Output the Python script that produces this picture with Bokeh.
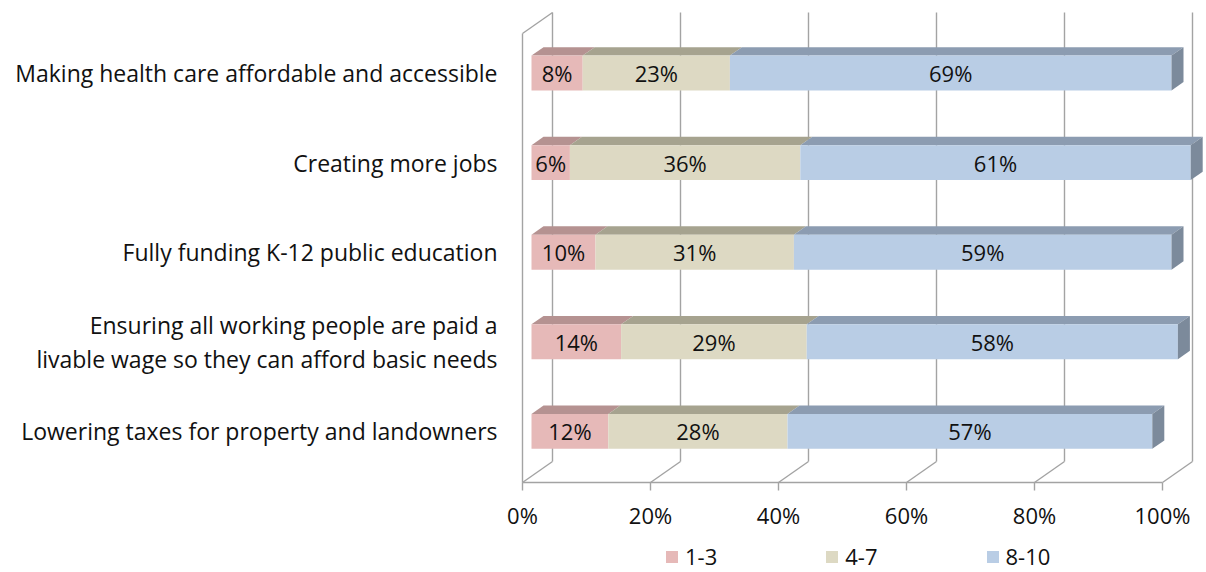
from bokeh.plotting import figure
from bokeh.models import (Range1d, FixedTicker, PrintfTickFormatter, Legend,
                          LegendItem, ColumnDataSource)
from bokeh.core.properties import value
from bokeh.embed import file_html
from bokeh.resources import INLINE

# ---- data -------------------------------------------------------------
categories = [
    "Making health care affordable and accessible",
    "Creating more jobs",
    "Fully funding K-12 public education",
    "Ensuring all working people are paid a\nlivable wage so they can afford basic needs",
    "Lowering taxes for property and landowners",
]
series_names = ["1-3", "4-7", "8-10"]
low = [8, 6, 10, 14, 12]
mid = [23, 36, 31, 29, 28]
high = [69, 61, 59, 58, 57]
x_ticks = [0, 20, 40, 60, 80, 100]

# ---- styling ----------------------------------------------------------
FONT = "Open Sans"
TEXT_COLOR = "#111111"
GRID_COLOR = "#a3a3a3"
front_colors = ["#E6B9B8", "#DDD9C3", "#B9CDE5"]
top_colors = ["#B59291", "#A6A38F", "#8C9CB1"]
side_color = "#7C8A9B"

W, H = 1206, 572
PX_PER_PCT = 6.4          # horizontal scale of the plot area
ROW_PX = 89.6             # vertical distance between bars
ORIGIN_PX = 522           # left edge of the floor's front line
FLOOR_PX = 482            # height of the floor's front line from the top

# 3-D depth of the plot box (front -> back wall), in data units
DX = 30 / PX_PER_PCT
DY = 21 / ROW_PX
BAR_D0, BAR_D1 = 0.3, 0.7  # bar sits in the middle of the box depth
BAR_THICK = 0.39
Y_FLOOR = -0.5
WALL_TOP = Y_FLOOR + 449 / ROW_PX

x_start = -ORIGIN_PX / PX_PER_PCT
x_end = (W - ORIGIN_PX) / PX_PER_PCT
y_start = Y_FLOOR - (H - FLOOR_PX) / ROW_PX
y_end = Y_FLOOR + FLOOR_PX / ROW_PX

p = figure(width=W, height=H, output_backend="svg", toolbar_location=None,
           x_range=Range1d(x_start, x_end), y_range=Range1d(y_start, y_end),
           y_axis_location=None, min_border=0, min_border_left=0,
           min_border_right=0, min_border_top=0, min_border_bottom=0)
p.outline_line_color = None
p.grid.visible = False
p.background_fill_color = "white"
p.border_fill_color = "white"

# ---- box walls and gridlines -------------------------------------------
gx0, gy0, gx1, gy1 = [], [], [], []
for t in x_ticks:
    # back-wall gridline
    gx0.append(t + DX); gy0.append(Y_FLOOR + DY)
    gx1.append(t + DX); gy1.append(WALL_TOP + DY)
    # floor line running from front to back
    gx0.append(t); gy0.append(Y_FLOOR)
    gx1.append(t + DX); gy1.append(Y_FLOOR + DY)
# left side wall
gx0 += [0, 0]; gy0 += [Y_FLOOR, WALL_TOP]
gx1 += [0, DX]; gy1 += [WALL_TOP, WALL_TOP + DY]
p.segment(gx0, gy0, gx1, gy1, line_color=GRID_COLOR, line_width=1.4)

# ---- stacked 3-D bars ---------------------------------------------------
rows = list(range(len(categories)))[::-1]
series = [low, mid, high]
front_renderers = []
starts = [0] * len(categories)
for k, vals in enumerate(series):
    left = list(starts)
    right = [a + v for a, v in zip(left, vals)]
    starts = right
    top_xs, top_ys = [], []
    for r, a, b in zip(rows, left, right):
        t = r + BAR_THICK / 2
        top_xs.append([a + BAR_D0 * DX, b + BAR_D0 * DX, b + BAR_D1 * DX, a + BAR_D1 * DX])
        top_ys.append([t + BAR_D0 * DY, t + BAR_D0 * DY, t + BAR_D1 * DY, t + BAR_D1 * DY])
    p.patches(top_xs, top_ys, fill_color=top_colors[k], line_color=None)
    src = ColumnDataSource(dict(
        y=[r + BAR_D0 * DY for r in rows],
        left=[a + BAR_D0 * DX for a in left],
        right=[b + BAR_D0 * DX for b in right],
        mid_x=[(a + b) / 2 + BAR_D0 * DX for a, b in zip(left, right)],
        label=[f"{v}%" for v in vals],
    ))
    fr = p.hbar(y="y", left="left", right="right", height=BAR_THICK, source=src,
                fill_color=front_colors[k], line_color=None)
    front_renderers.append(fr)
    p.text(x="mid_x", y="y", text="label", source=src, text_align="center",
           text_baseline="middle", text_font=value(FONT), text_font_size="22px",
           text_color=TEXT_COLOR)

# right-hand end face of each bar
side_xs, side_ys = [], []
for r, e in zip(rows, starts):
    t = r + BAR_THICK / 2
    b = r - BAR_THICK / 2
    side_xs.append([e + BAR_D0 * DX, e + BAR_D1 * DX, e + BAR_D1 * DX, e + BAR_D0 * DX])
    side_ys.append([b + BAR_D0 * DY, b + BAR_D1 * DY, t + BAR_D1 * DY, t + BAR_D0 * DY])
p.patches(side_xs, side_ys, fill_color=side_color, line_color=None)

# ---- category labels ----------------------------------------------------
p.text(x=[-25 / PX_PER_PCT] * len(categories), y=[r + BAR_D0 * DY for r in rows],
       text=categories, text_align="right", text_baseline="middle",
       text_font=value(FONT), text_font_size="23px", text_color=TEXT_COLOR,
       text_line_height=1.05)

# ---- x axis, pinned to the floor's front edge ---------------------------
ax = p.xaxis[0]
ax.fixed_location = Y_FLOOR
ax.ticker = FixedTicker(ticks=x_ticks)
ax.formatter = PrintfTickFormatter(format="%d%%")
ax.bounds = (0, 100)
ax.axis_line_color = GRID_COLOR
ax.axis_line_width = 1.4
ax.major_tick_line_color = GRID_COLOR
ax.major_tick_line_width = 1.4
ax.major_tick_out = 8
ax.major_tick_in = 0
ax.minor_tick_line_color = None
ax.major_label_standoff = 9
ax.major_label_text_font = FONT
ax.major_label_text_font_size = "22px"
ax.major_label_text_color = TEXT_COLOR

# ---- legend -------------------------------------------------------------
legend = Legend(
    items=[LegendItem(label=n, renderers=[r]) for n, r in zip(series_names, front_renderers)],
    orientation="horizontal", location=(664, 1), spacing=107,
    glyph_width=15, glyph_height=15, label_standoff=6, padding=0, margin=0,
    label_text_font=FONT, label_text_font_size="22px", label_text_color=TEXT_COLOR,
    border_line_color=None, background_fill_alpha=0,
)
p.add_layout(legend, "center")

open("out.html", "w").write(file_html(p, INLINE))
